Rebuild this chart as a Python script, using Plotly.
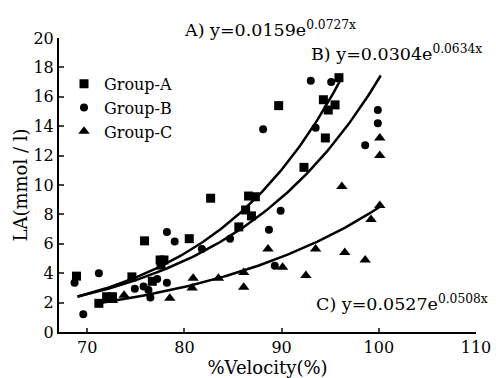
import numpy as np
import plotly.graph_objects as go

# Group A (squares)
a_x = [68.9, 71.2, 72.0, 72.6, 74.6, 75.9, 76.7, 77.5, 77.9, 77.6, 80.5, 82.7, 85.6, 86.3, 86.6, 86.9, 87.3, 89.7, 92.3, 94.3, 94.5, 94.8, 95.5, 95.9]
a_y = [3.8, 1.95, 2.4, 2.4, 3.75, 6.2, 3.45, 4.9, 4.9, 4.55, 6.35, 9.1, 7.15, 8.3, 9.25, 7.9, 9.2, 15.4, 11.2, 15.8, 13.2, 15.1, 15.45, 17.3]
# Group B (circles)
b_x = [68.7, 69.6, 71.2, 74.9, 75.8, 76.3, 76.5, 77.2, 78.2, 78.2, 79.0, 81.8, 84.7, 88.1, 88.7, 89.3, 89.9, 93.0, 93.5, 95.1, 98.6, 99.9, 99.9]
b_y = [3.35, 1.2, 4.0, 2.95, 3.1, 2.85, 2.35, 3.6, 3.35, 6.8, 6.15, 5.65, 6.35, 13.8, 6.95, 4.5, 8.25, 17.1, 13.9, 17.0, 12.7, 15.1, 14.2]
# Group C (triangles)
c_x = [72.6, 73.8, 78.5, 80.8, 80.9, 83.5, 86.1, 86.1, 88.6, 90.1, 92.5, 93.5, 96.2, 96.5, 98.6, 99.2, 100.1, 100.1, 100.1]
c_y = [2.15, 2.5, 2.3, 3.0, 3.65, 3.65, 4.05, 3.05, 5.65, 4.4, 3.85, 5.65, 9.9, 5.4, 4.9, 7.65, 8.6, 12.0, 13.2]

# Fitted exponential curves y = a * exp(b x) as printed on the chart
fit_a = [0.0159, 0.0304, 0.0527]
fit_b = [0.0727, 0.0634, 0.0508]
fit_start = [69.0, 69.0, 71.5]
fit_end = [96.0, 100.2, 100.2]
fit_labels = ["A) y=0.0159e<sup>0.0727x</sup>", "B) y=0.0304e<sup>0.0634x</sup>", "C) y=0.0527e<sup>0.0508x</sup>"]

x_ticks = [70, 80, 90, 100, 110]
y_ticks = [0, 2, 4, 6, 8, 10, 12, 14, 16, 18, 20]

FONT = "DejaVu Serif, serif"

fig = go.Figure()
for k in range(3):
    xs = np.linspace(fit_start[k], fit_end[k], 120)
    ys = fit_a[k] * np.exp(fit_b[k] * xs)
    fig.add_trace(go.Scatter(x=xs, y=ys, mode="lines", line=dict(color="black", width=2.5),
                             showlegend=False, hoverinfo="skip"))

fig.add_trace(go.Scatter(x=a_x, y=a_y, mode="markers", name="Group-A",
                         marker=dict(symbol="square", size=9, color="black")))
fig.add_trace(go.Scatter(x=b_x, y=b_y, mode="markers", name="Group-B",
                         marker=dict(symbol="circle", size=8, color="black")))
fig.add_trace(go.Scatter(x=c_x, y=c_y, mode="markers", name="Group-C",
                         marker=dict(symbol="triangle-up", size=10, color="black")))

ann_pos = [(79.8, 0.988), (92.85, 0.906), (93.36, 0.055)]
for k in range(3):
    fig.add_annotation(x=ann_pos[k][0], y=ann_pos[k][1], xref="x", yref="paper",
                       text=fit_labels[k], showarrow=False, xanchor="left", yanchor="bottom",
                       font=dict(family=FONT, size=17.5, color="black"))

fig.update_layout(
    width=496, height=378,
    margin=dict(l=59, r=20, t=38, b=46),
    paper_bgcolor="white", plot_bgcolor="white",
    font=dict(family=FONT, size=16, color="black"),
    legend=dict(x=0.012, y=0.902, xanchor="left", yanchor="top", bgcolor="rgba(0,0,0,0)",
                font=dict(family=FONT, size=16), itemwidth=30, tracegroupgap=0),
    xaxis=dict(range=[67.1, 110], tickvals=x_ticks, ticks="inside", ticklen=4, tickwidth=2,
               showline=True, linecolor="black", linewidth=2, showgrid=False, zeroline=False,
               automargin=False,
               title=dict(text="%Velocity(%)", font=dict(family=FONT, size=18), standoff=0),
               tickfont=dict(family=FONT, size=16)),
    yaxis=dict(range=[0, 20], tickvals=y_ticks, ticks="inside", ticklen=5, tickwidth=2,
               showline=True, linecolor="black", linewidth=2, showgrid=False, zeroline=False,
               automargin=False,
               title=dict(text="LA(mmol / l)", font=dict(family=FONT, size=18), standoff=1),
               tickfont=dict(family=FONT, size=16)),
)

fig.write_html("out.html", config={"displayModeBar": False},
               post_script="document.body.style.margin='0';document.body.style.overflow='hidden';")
